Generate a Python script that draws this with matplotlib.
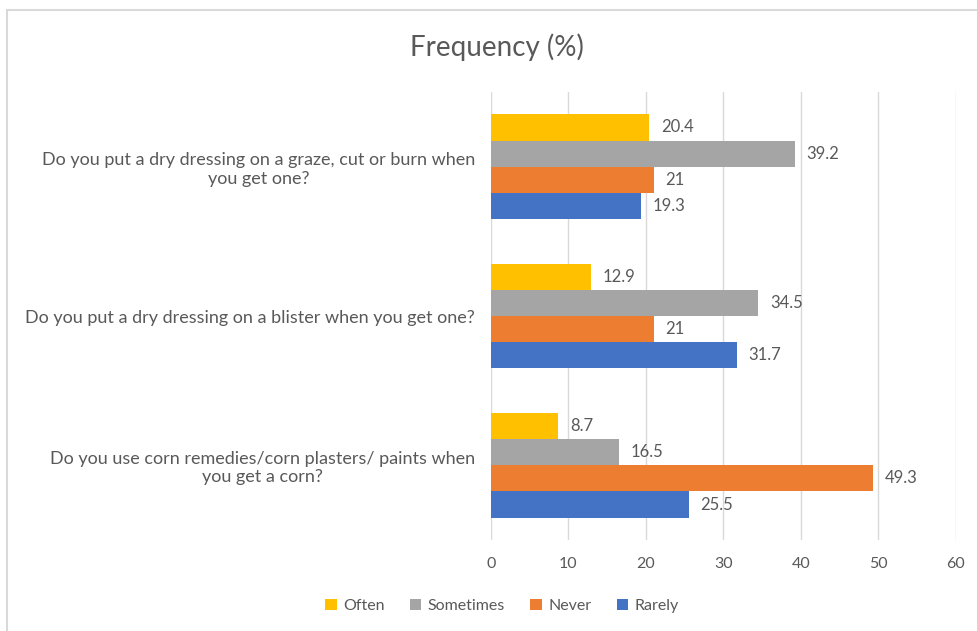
import numpy as np
import matplotlib.pyplot as plt
from matplotlib.patches import Rectangle

# Data (bottom to top on the chart)
questions = [
    "Do you use corn remedies/corn plasters/ paints when\nyou get a corn?",
    "Do you put a dry dressing on a blister when you get one?",
    "Do you put a dry dressing on a graze, cut or burn when\nyou get one?",
]
often = [8.7, 12.9, 20.4]
sometimes = [16.5, 34.5, 39.2]
never = [49.3, 21, 21]
rarely = [25.5, 31.7, 19.3]

series_names = ["Often", "Sometimes", "Never", "Rarely"]
series_vals = [often, sometimes, never, rarely]
colors = ["#FFC000", "#A5A5A5", "#ED7D31", "#4472C4"]

txt = "#595959"
plt.rcParams['font.family'] = ['Lato', 'DejaVu Sans']

fig = plt.figure(figsize=(9.77, 6.31), dpi=100)
ax = fig.add_axes([491/977, 1 - 540/631, (956 - 491)/977, (540 - 92)/631])

y = np.arange(len(questions))
h = 0.175
# Often on top, Rarely at the bottom of each group
offsets = [1.5*h, 0.5*h, -0.5*h, -1.5*h]
for name, vals, c, off in zip(series_names, series_vals, colors, offsets):
    bars = ax.barh(y + off, vals, height=h, color=c, label=name, zorder=3)
    for b, v in zip(bars, vals):
        ax.text(b.get_width() + 1.5, b.get_y() + b.get_height()/2, f"{v:g}",
                va='center', ha='left', fontsize=12, color=txt)

ax.set_xlim(0, 60)
ax.set_ylim(-0.5, 2.5)
ax.set_xticks(range(0, 61, 10))
ax.set_yticks(y)
ax.set_yticklabels(questions, ha='right', multialignment='center')
ax.tick_params(axis='y', length=0, pad=11.5, labelsize=13, labelcolor=txt)
ax.tick_params(axis='x', length=0, pad=12, labelsize=11.5, labelcolor=txt)
ax.grid(axis='x', color='#D9D9D9', linewidth=1, zorder=0)
for s in ax.spines.values():
    s.set_visible(False)

fig.text(497/977, 1 - 47/631, "Frequency (%)", ha='center', va='center',
         fontsize=20, color=txt)

handles, labels = ax.get_legend_handles_labels()
fig.legend(handles, labels, loc='center', bbox_to_anchor=(502/977, 1 - 606/631),
           ncol=4, frameon=False, fontsize=11.5, handlelength=0.7, handleheight=0.7,
           handletextpad=0.4, columnspacing=1.6, labelcolor=txt)

# chart border (left and top edges visible)
fig.patches.append(Rectangle((7/977, -0.05), 1.2, 1.05 - 10/631, transform=fig.transFigure,
                             fill=False, edgecolor='#D9D9D9', linewidth=1.5))

fig.savefig("out.png", dpi=100)
